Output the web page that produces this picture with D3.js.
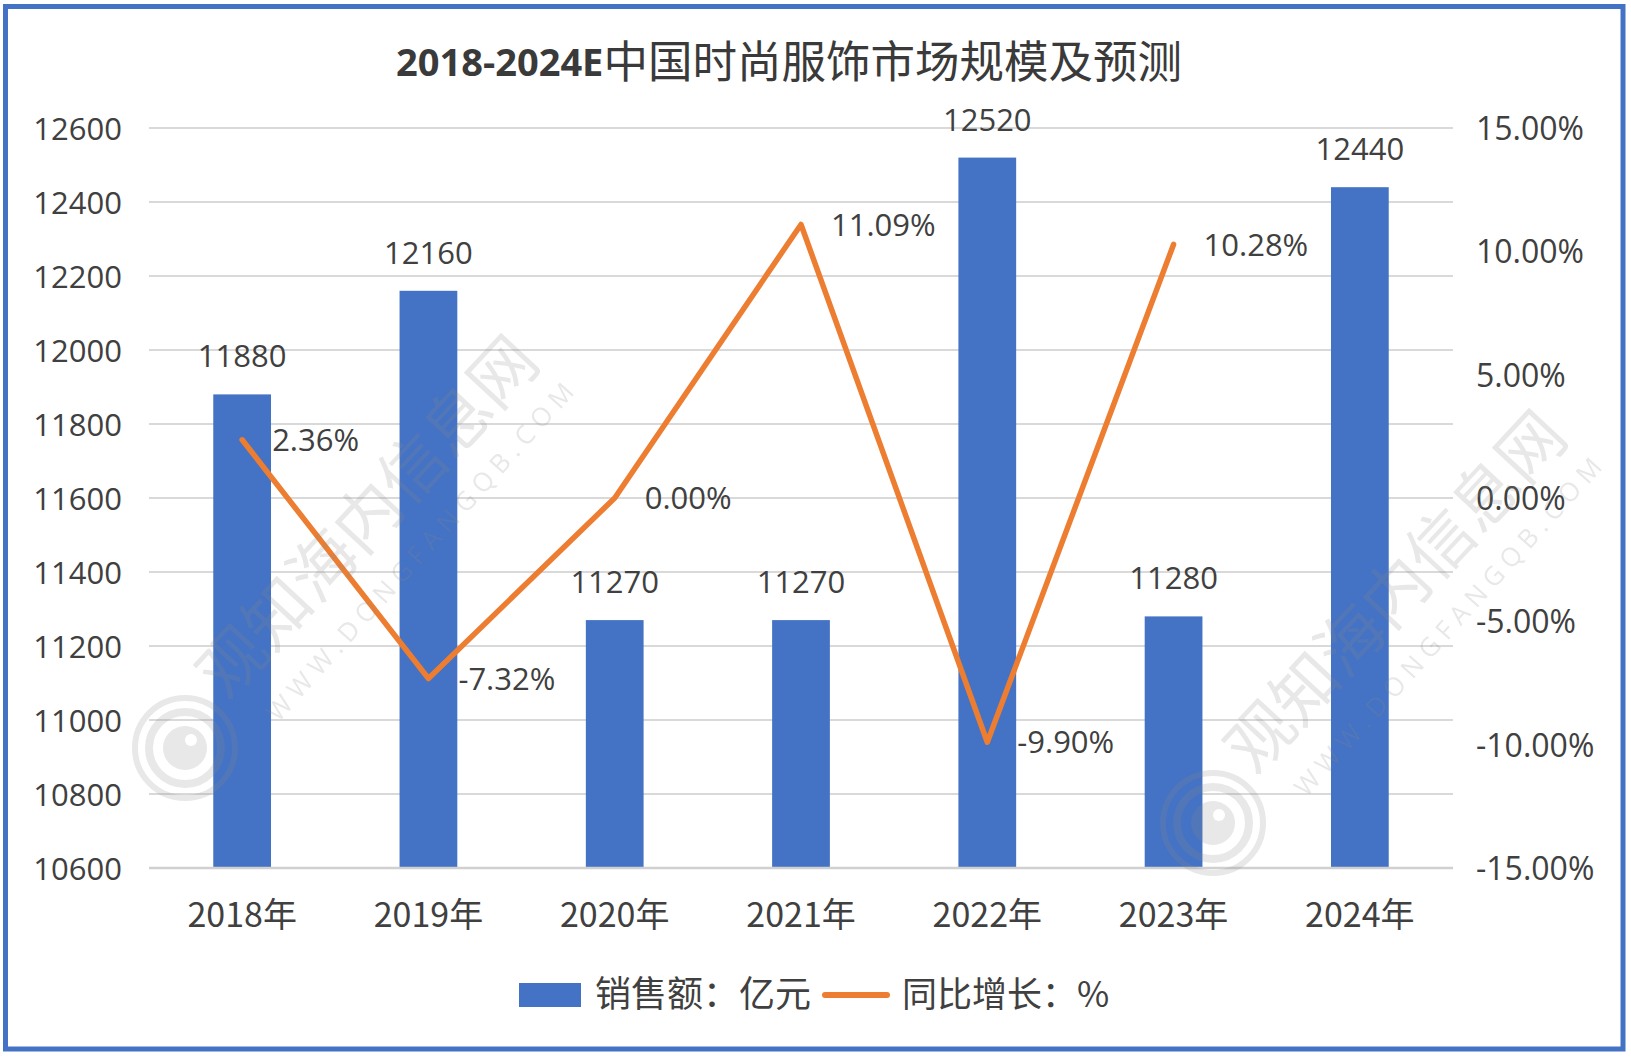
<!DOCTYPE html>
<html>
<head>
<meta charset="utf-8">
<script src="https://cdn.jsdelivr.net/npm/d3@7"></script>
<style>
  html, body { margin: 0; padding: 0; background: #ffffff; }
  svg { display: block; }
</style>
</head>
<body>
<svg id="chart" width="1631" height="1057"></svg>
<script>
// ---------------- data ----------------
const titleNum = "2018-2024E";
const titleText = "中国时尚服饰市场规模及预测";
const categories = ["2018年", "2019年", "2020年", "2021年", "2022年", "2023年", "2024年"];
const sales = [11880, 12160, 11270, 11270, 12520, 11280, 12440];
const growthCategories = ["2018年", "2019年", "2020年", "2021年", "2022年", "2023年"];
const growth = [2.36, -7.32, 0.00, 11.09, -9.90, 10.28];
const leftTicks = [10600, 10800, 11000, 11200, 11400, 11600, 11800, 12000, 12200, 12400, 12600];
const rightTicks = [-15, -10, -5, 0, 5, 10, 15];
const legendLabels = ["销售额：亿元", "同比增长：%"];
const watermarkText = "观知海内信息网";
const watermarkUrl = "WWW.DONGFANGQB.COM";

// ---------------- layout ----------------
const W = 1631, H = 1057;
const plot = { left: 149, right: 1453, top: 128, bottom: 868 };
const numFont = "'Open Sans', 'Noto Sans CJK SC', sans-serif";
const cjkFont = "'Noto Sans CJK SC', 'Noto Sans', sans-serif";
const textColor = "#404040";
const barColor = "#4472C4";
const lineColor = "#ED7D31";

const svg = d3.select("#chart");

svg.append("rect").attr("x", 0).attr("y", 0).attr("width", W).attr("height", H).attr("fill", "#fff");

const x = d3.scaleBand().domain(categories).range([plot.left, plot.right]).paddingInner(0).paddingOuter(0);
const yL = d3.scaleLinear().domain([10600, 12600]).range([plot.bottom, plot.top]);
const yR = d3.scaleLinear().domain([-15, 15]).range([plot.bottom, plot.top]);
const barW = x.bandwidth() * 0.31;

// gridlines
svg.append("g").selectAll("line").data(leftTicks.slice(1)).join("line")
  .attr("x1", plot.left).attr("x2", plot.right)
  .attr("y1", d => yL(d)).attr("y2", d => yL(d))
  .attr("stroke", "#D9D9D9").attr("stroke-width", 2);

// bars
svg.append("g").selectAll("rect").data(sales).join("rect")
  .attr("x", (d, i) => x(categories[i]) + x.bandwidth() / 2 - barW / 2)
  .attr("width", barW)
  .attr("y", d => yL(d))
  .attr("height", d => plot.bottom - yL(d))
  .attr("fill", barColor);

// bottom axis line
svg.append("line")
  .attr("x1", plot.left).attr("x2", plot.right)
  .attr("y1", plot.bottom).attr("y2", plot.bottom)
  .attr("stroke", "#D0D0D0").attr("stroke-width", 2.5);

// left axis
const gL = svg.append("g").attr("transform", `translate(${plot.left},0)`)
  .call(d3.axisLeft(yL).tickValues(leftTicks).tickSize(0).tickPadding(27).tickFormat(d => String(d)));
gL.select(".domain").remove();
gL.selectAll("text").attr("font-family", numFont).attr("font-size", 31).attr("fill", textColor).attr("dy", "0.36em");

// right axis
const fmtPct = v => (v < 0 ? "-" : "") + Math.abs(v).toFixed(2) + "%";
const gR = svg.append("g").attr("transform", `translate(${plot.right},0)`)
  .call(d3.axisRight(yR).tickValues(rightTicks).tickSize(0).tickPadding(23).tickFormat(fmtPct));
gR.select(".domain").remove();
gR.selectAll("text").attr("font-family", numFont).attr("font-size", 32).attr("fill", textColor).attr("dy", "0.36em");

// bottom axis
const gB = svg.append("g").attr("transform", `translate(0,${plot.bottom})`)
  .call(d3.axisBottom(x).tickSize(0));
gB.select(".domain").remove();
gB.selectAll("text").attr("font-family", cjkFont).attr("font-size", 34).attr("fill", textColor)
  .attr("y", 59).attr("dy", 0);

// line
const cx = c => x(c) + x.bandwidth() / 2;
const line = d3.line().x((d, i) => cx(growthCategories[i])).y(d => yR(d));
svg.append("path").datum(growth)
  .attr("d", line)
  .attr("fill", "none").attr("stroke", lineColor).attr("stroke-width", 5.5)
  .attr("stroke-linejoin", "round").attr("stroke-linecap", "round");

// bar labels
svg.append("g").selectAll("text").data(sales).join("text")
  .attr("x", (d, i) => cx(categories[i]))
  .attr("y", d => yL(d) - 27)
  .attr("text-anchor", "middle")
  .attr("font-family", numFont).attr("font-size", 31).attr("fill", textColor)
  .text(d => String(d));

// line labels
svg.append("g").selectAll("text").data(growth).join("text")
  .attr("x", (d, i) => cx(growthCategories[i]) + 30)
  .attr("y", d => yR(d))
  .attr("dy", "0.36em")
  .attr("font-family", numFont).attr("font-size", 31).attr("fill", textColor)
  .text(d => fmtPct(d));

// title
const title = svg.append("text").attr("x", 789).attr("y", 76).attr("text-anchor", "middle").attr("fill", "#3a3a3a");
title.append("tspan").attr("font-family", numFont).attr("font-weight", "bold").attr("font-size", 38).text(titleNum);
title.append("tspan").attr("font-family", cjkFont).attr("font-weight", "normal").attr("font-size", 44.5).attr("dy", 2).text(titleText);

// legend
const lg = svg.append("g");
lg.append("rect").attr("x", 519).attr("y", 983).attr("width", 62).attr("height", 24).attr("fill", barColor);
lg.append("text").attr("x", 595).attr("y", 1007).attr("font-family", cjkFont).attr("font-size", 36).attr("fill", textColor).text(legendLabels[0]);
lg.append("line").attr("x1", 825).attr("x2", 887).attr("y1", 995).attr("y2", 995)
  .attr("stroke", lineColor).attr("stroke-width", 6).attr("stroke-linecap", "round");
lg.append("text").attr("x", 902).attr("y", 1007).attr("font-family", cjkFont).attr("font-size", 35).attr("fill", textColor).text(legendLabels[1]);

// watermarks
function watermark(dx, dy) {
  const g = svg.append("g").attr("transform", `translate(${dx},${dy})`).attr("opacity", 0.2).attr("pointer-events", "none");
  g.append("text").attr("transform", "translate(368,517) rotate(-47)")
    .attr("text-anchor", "middle").attr("dy", "0.35em")
    .attr("font-family", cjkFont).attr("font-weight", "normal").attr("font-size", 66).attr("fill", "#8a8a8a")
    .text(watermarkText);
  g.append("text").attr("transform", "translate(420,552) rotate(-48)")
    .attr("text-anchor", "middle").attr("dy", "0.35em")
    .attr("font-family", numFont).attr("font-size", 26).attr("fill", "#8a8a8a")
    .attr("textLength", 444).attr("lengthAdjust", "spacing")
    .text(watermarkUrl);
  const lc = g.append("g").attr("transform", "translate(185,748)");
  lc.append("circle").attr("r", 50).attr("fill", "none").attr("stroke", "#8a8a8a").attr("stroke-width", 6);
  lc.append("circle").attr("r", 36).attr("fill", "none").attr("stroke", "#8a8a8a").attr("stroke-width", 8);
  lc.append("circle").attr("r", 22).attr("fill", "#8a8a8a");
  lc.append("circle").attr("cx", 6).attr("cy", -8).attr("r", 6).attr("fill", "#ffffff");
}
watermark(0, 0);
watermark(1028, 75);

// chart border
svg.append("rect").attr("x", 5.5).attr("y", 6.5).attr("width", 1617.5).attr("height", 1042.5)
  .attr("fill", "none").attr("stroke", "#4472C4").attr("stroke-width", 5);
</script>
</body>
</html>
